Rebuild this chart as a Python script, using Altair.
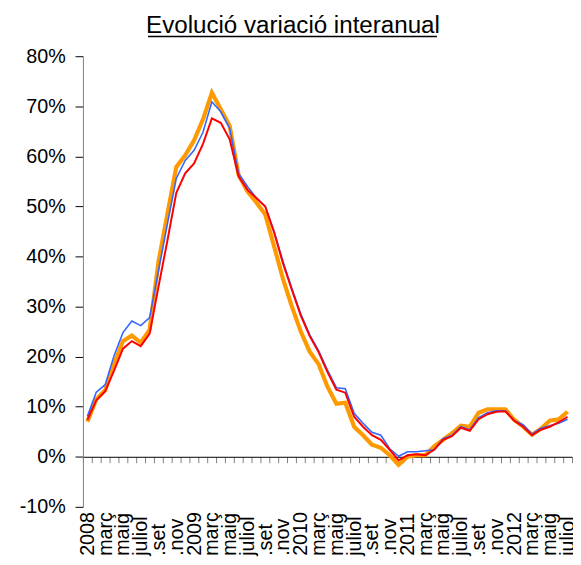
import altair as alt
import pandas as pd

title_text = "Evolució variació interanual"

years = [2008, 2009, 2010, 2011, 2012]
month_codes = ["01", "02", "03", "04", "05", "06", "07", "08", "09", "10", "11", "12"]
months = [f"{y}-{m}" for y in years for m in month_codes][:55]  # Jan 2008 .. Jul 2012

orange_vals = [7.0, 11.5, 13.3, 18.5, 23.1, 24.2, 22.8, 25.4, 39.0, 48.5,
               57.9, 60.2, 63.2, 67.4, 72.7, 69.4, 66.1, 56.3, 53.0, 50.8,
               48.4, 42.0, 35.5, 30.0, 25.0, 21.0, 18.5, 14.0, 10.6, 10.8,
               6.0, 4.3, 2.4, 1.8, 0.3, -1.6, 0.0, 0.3, 0.3, 2.1,
               3.4, 4.7, 6.2, 6.0, 8.8, 9.5, 9.5, 9.5, 7.4, 6.0,
               4.4, 5.6, 7.2, 7.5, 9.0]
blue_vals = [8.1, 12.9, 14.4, 20.2, 24.8, 27.1, 26.2, 27.8, 37.2, 46.5,
             55.6, 59.2, 61.2, 64.8, 70.9, 68.9, 65.6, 56.6, 54.0, 51.7,
             50.0, 45.0, 39.0, 33.6, 28.5, 24.4, 21.2, 17.3, 13.8, 13.6,
             8.7, 6.7, 4.9, 4.3, 1.6, 0.1, 1.0, 1.0, 1.2, 1.4,
             3.6, 4.3, 6.0, 5.4, 7.8, 8.8, 9.2, 9.2, 7.2, 6.4,
             4.5, 5.7, 6.2, 6.7, 7.5]
red_vals = [7.4, 11.3, 13.1, 17.2, 21.6, 23.1, 22.1, 24.6, 34.0, 43.2,
            52.7, 56.6, 58.6, 62.5, 67.6, 66.7, 63.4, 56.0, 53.3, 51.7,
            50.0, 44.8, 38.6, 33.3, 28.2, 24.1, 20.9, 16.9, 13.4, 12.8,
            8.0, 6.0, 4.3, 3.4, 1.4, -0.7, 0.3, 0.5, 0.3, 1.4,
            3.4, 4.1, 5.8, 5.2, 7.5, 8.5, 9.0, 9.1, 7.2, 6.0,
            4.3, 5.4, 6.0, 6.9, 8.0]

y_ticks = [-0.1, 0.0, 0.1, 0.2, 0.3, 0.4, 0.5, 0.6, 0.7, 0.8]

W, H = 496, 457
ten_pct = H / 9.0

df_o = pd.DataFrame({"mes": months, "v": [x / 100 for x in orange_vals]})
df_b = pd.DataFrame({"mes": months, "v": [x / 100 for x in blue_vals]})
df_r = pd.DataFrame({"mes": months, "v": [x / 100 for x in red_vals]})

label_expr = (
    "substring(datum.value,5,7)=='01' ? substring(datum.value,0,4) : "
    "substring(datum.value,5,7)=='03' ? 'març' : "
    "substring(datum.value,5,7)=='05' ? 'maig' : "
    "substring(datum.value,5,7)=='07' ? 'juliol' : "
    "substring(datum.value,5,7)=='09' ? '.set' : "
    "substring(datum.value,5,7)=='11' ? '.nov' : ''"
)

x_enc = alt.X(
    "mes:N",
    sort=months,
    scale=alt.Scale(type="band", domain=months, paddingInner=0, paddingOuter=0),
    axis=alt.Axis(
        title=None,
        orient="bottom",
        offset=-ten_pct,
        tickBand="extent",
        tickSize=6,
        tickColor="#808080",
        domainColor="#000000",
        domainWidth=1,
        labelExpr=label_expr,
        labelAngle=270,
        labelAlign="left",
        labelBaseline="middle",
        labelPadding=94,
        labelFontSize=20,
        labelFont="Liberation Sans",
        labelColor="#000000",
        labelOverlap=False,
        labelBound=False,
        grid=False,
    ),
)

y_enc = alt.Y(
    "v:Q",
    scale=alt.Scale(domain=[-0.1, 0.8], nice=False, zero=False),
    axis=alt.Axis(
        title=None,
        values=y_ticks,
        labelExpr="(datum.value < -0.0001 ? '-' : '') + format(abs(datum.value), '.0%')",
        tickSize=8,
        tickColor="#000000",
        domainColor="#808080",
        labelPadding=10,
        labelFontSize=20,
        labelFont="Liberation Sans",
        labelColor="#000000",
        grid=False,
    ),
)

orange = alt.Chart(df_o).mark_line(color="#FF9900", strokeWidth=4.2).encode(x=x_enc, y=y_enc)
blue = alt.Chart(df_b).mark_line(color="#3366FF", strokeWidth=1.6).encode(x=x_enc, y=y_enc)
red = alt.Chart(df_r).mark_line(color="#FF0000", strokeWidth=2).encode(x=x_enc, y=y_enc)

title_df = pd.DataFrame({"t": [title_text]})
title = alt.Chart(title_df).mark_text(
    fontSize=24.5, font="Liberation Sans", color="#000000", align="center", baseline="alphabetic"
).encode(text="t:N", x=alt.value(213), y=alt.value(-24))
underline = alt.Chart(title_df).mark_rule(color="#000000", strokeWidth=1.5).encode(
    x=alt.value(66), x2=alt.value(359), y=alt.value(-20)
)

chart = alt.layer(orange, blue, red, title, underline).properties(
    width=W,
    height=H,
    autosize=alt.AutoSizeParams(type="none"),
    padding={"left": 76, "top": 45, "right": 1, "bottom": 50},
).configure_view(stroke=None)

chart.save("out.html", embed_options={"renderer": "svg", "actions": False})
